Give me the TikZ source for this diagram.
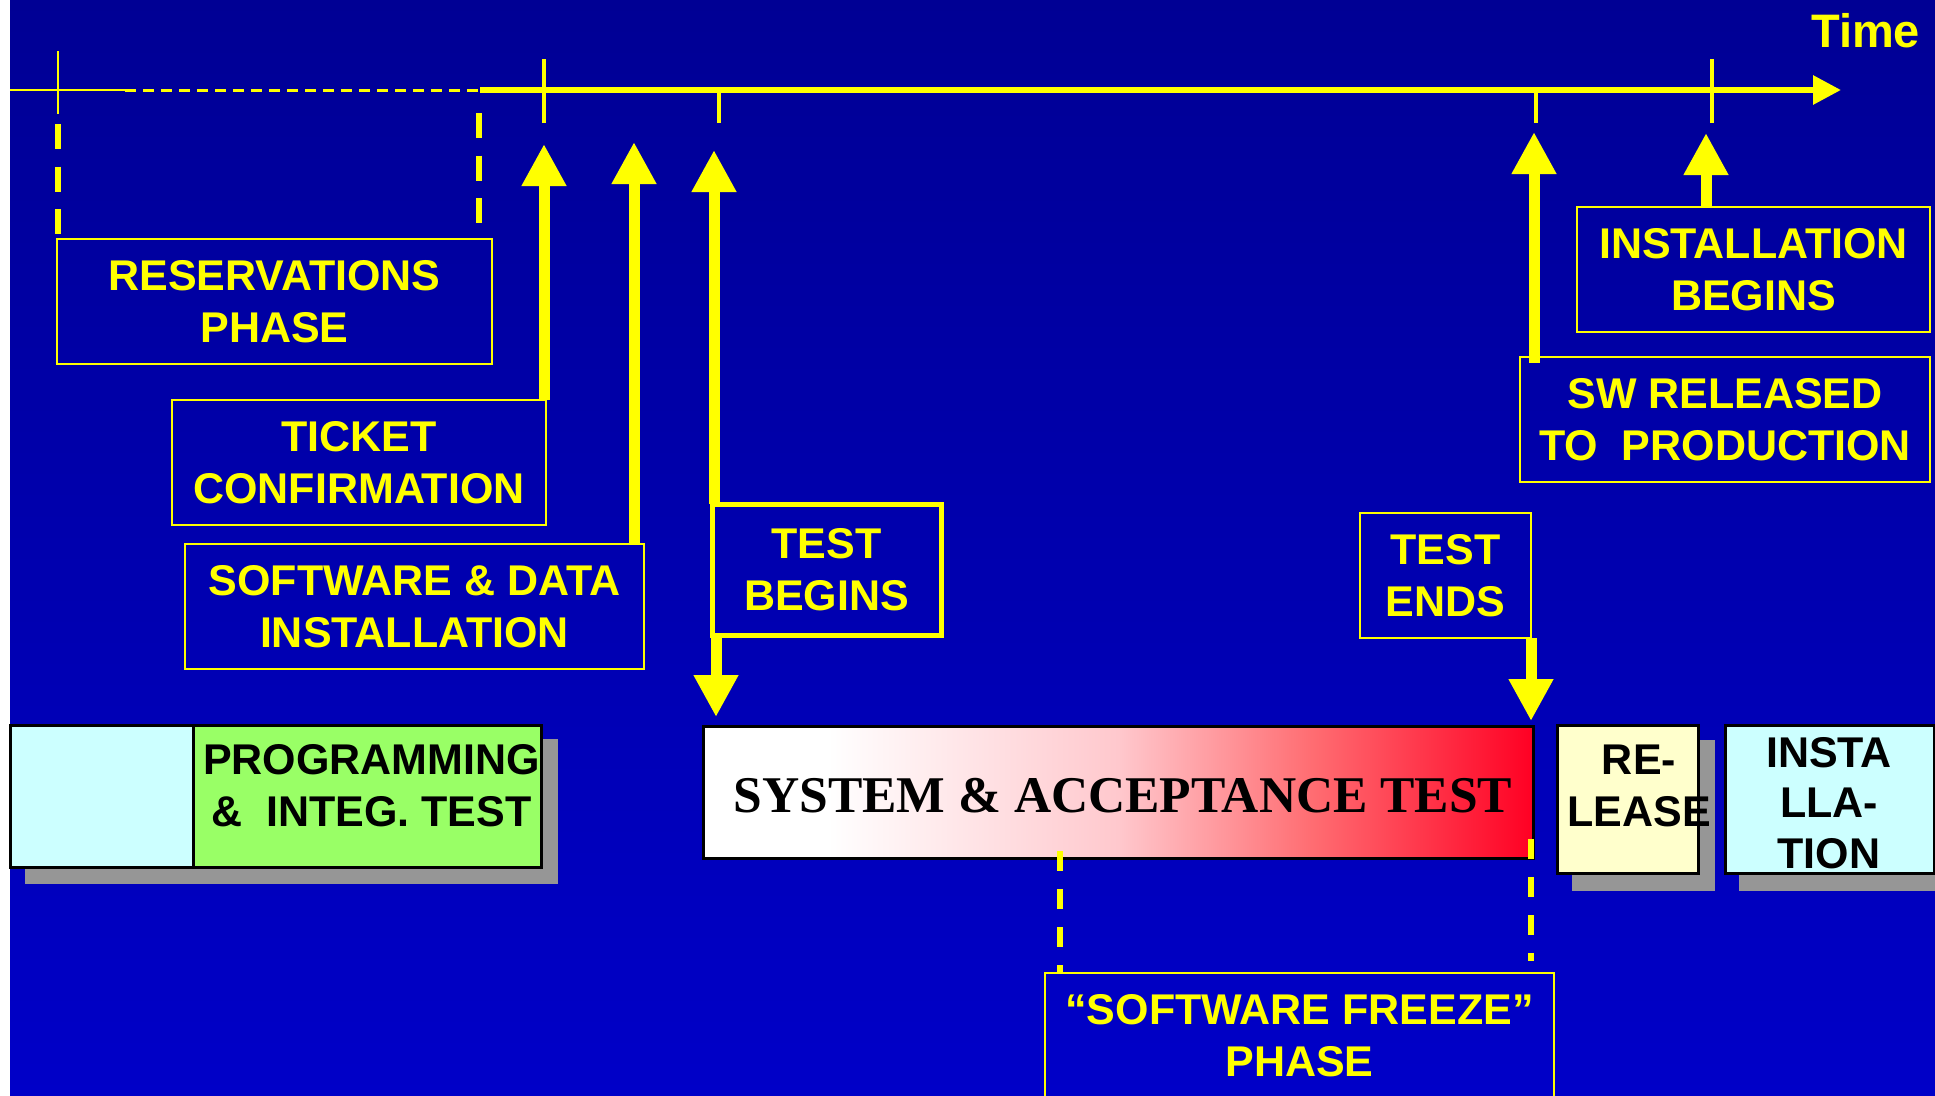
\documentclass[tikz,border=0pt]{standalone}
\usepackage{fontspec}
\setmainfont{Liberation Sans}
\newfontfamily\serifbold{Liberation Serif}
\usetikzlibrary{arrows.meta,calc}

\definecolor{bgtop}{RGB}{0,0,148}
\definecolor{bgbot}{RGB}{0,0,200}
\definecolor{hiyellow}{RGB}{255,255,0}
\definecolor{paleCyan}{RGB}{204,255,255}
\definecolor{paleGreen}{RGB}{153,255,102}
\definecolor{paleYellow}{RGB}{255,255,204}
\definecolor{shadowgrey}{RGB}{150,150,150}

% white-to-red fade of the test phase bar (inner 25bp..75bp spans the bar)
\pgfdeclarehorizontalshading{testfade}{100bp}{%
  color(0bp)=(white); color(25bp)=(white); color(32.5bp)=(white);
  color(50bp)=(rgb,255:red,255;green,200;blue,205);
  color(61.5bp)=(rgb,255:red,255;green,110;blue,115);
  color(75bp)=(rgb,255:red,255;green,0;blue,35);
  color(100bp)=(rgb,255:red,255;green,0;blue,35)}

\begin{document}
\begin{tikzpicture}[x=1pt,y=-1pt,
  labelbox/.style={draw=hiyellow, line width=2.5pt, outer sep=0pt, inner sep=0pt,
    text=hiyellow, align=center, font=\bfseries\fontsize{43}{52}\selectfont},
  blockbox/.style={draw=black, line width=3pt, outer sep=0pt, inner sep=0pt},
  blocktext/.style={text=black, align=center, inner sep=0pt,
    font=\bfseries\fontsize{43}{52}\selectfont},
  bigarrow/.style={draw=hiyellow, line width=11pt, -{Triangle[length=42pt,width=42pt]}},
  tickmark/.style={draw=hiyellow, line width=4pt},
  guide/.style={draw=hiyellow, line width=6.5pt, dash pattern=on 25pt off 17.5pt},
  freezeguide/.style={draw=hiyellow, line width=6pt, dash pattern=on 20pt off 18pt},
]
\useasboundingbox (0,0) rectangle (1935,1095);

% background
\fill[white] (0,0) rectangle (1935,1095);
\shade[top color=bgtop, bottom color=bgbot] (10,0) rectangle (1935,1095);

% time axis
\coordinate (axstart) at (10,90);
\coordinate (axdashA) at (125,90);
\coordinate (axdashB) at (480,90);
\coordinate (axend) at (1841,90);
\draw[hiyellow, line width=2.5pt] (axstart) -- (axdashA);
\draw[hiyellow, line width=3pt, dash pattern=on 11pt off 7pt] (axdashA) -- (axdashB);
\draw[hiyellow, line width=6pt, -{Triangle[length=28pt,width=28pt]}] (axdashB) -- (axend);
\node[anchor=base west, inner sep=0pt, text=hiyellow,
  font=\bfseries\fontsize{47}{50}\selectfont] (timelbl) at (1811,47) {Time};

% tick marks on the axis
\draw[hiyellow, line width=2pt] (58,51) -- (58,114);
\draw[tickmark] (544,59) -- (544,123);
\draw[tickmark] (719,90) -- (719,123);
\draw[tickmark] (1536,90) -- (1536,123);
\draw[tickmark] (1712,59) -- (1712,123);

% milestone labels
\node[labelbox, minimum width=435pt, minimum height=125pt] (res) at (274.5,301.5) {RESERVATIONS\\PHASE};
\node[labelbox, minimum width=374pt, minimum height=125pt] (ticket) at (359,462.5) {TICKET\\CONFIRMATION};
\node[labelbox, minimum width=459pt, minimum height=125pt] (swdata) at (414.5,606.5) {SOFTWARE \& DATA\\INSTALLATION};
\node[labelbox, line width=5pt, minimum width=229pt, minimum height=131pt] (testbeg) at (826.5,569.5) {TEST\\BEGINS};
\node[labelbox, minimum width=171pt, minimum height=125pt] (testend) at (1445.5,575.5) {TEST\\ENDS};
\node[labelbox, minimum width=353pt, minimum height=125pt] (instbeg) at (1753.5,269.5) {INSTALLATION\\BEGINS};
\node[labelbox, minimum width=410pt, minimum height=125pt] (swrel) at (1725,419.5) {SW RELEASED\\TO\ \ PRODUCTION};
\node[labelbox, minimum width=509pt, minimum height=125pt] (freeze) at (1299.5,1035.5) {“SOFTWARE FREEZE”\\PHASE};

% reservations phase bounds
\coordinate (resL1) at (58,124);
\coordinate (resL2) at (58,234);
\coordinate (resR1) at (479,113);
\coordinate (resR2) at (479,223);
\draw[guide] (resL1) -- (resL2);
\draw[guide] (resR1) -- (resR2);

% project phase blocks
\fill[shadowgrey] (25,739) rectangle (558,884);
\node[blockbox, fill=paleCyan, minimum width=183pt, minimum height=142pt] (prep) at (101.5,796) {};
\node[blockbox, fill=paleGreen, minimum width=348pt, minimum height=142pt] (prog) at (367,796) {};
\node[blocktext] (proglbl) at (371.5,786) {PROGRAMMING\\\&\ \ INTEG. TEST};

\node[blockbox, minimum width=830pt, minimum height=132pt, shading=testfade] (systest) at (1118,792) {};
\node[inner sep=0pt, text=black, font=\serifbold\bfseries\fontsize{51.5}{55}\selectfont] (syslbl) at (1123,796) {SYSTEM \& ACCEPTANCE TEST};

\fill[shadowgrey] (1572,740) rectangle (1715,891);
\node[blockbox, fill=paleYellow, minimum width=141pt, minimum height=148pt] (rel) at (1627.5,799) {};
\node[blocktext] (rellbl) at (1639,786) {RE-\\LEASE};

\fill[shadowgrey] (1739,740) rectangle (1935,891);
\node[blockbox, fill=paleCyan, minimum width=209pt, minimum height=148pt] (inst) at (1829.5,799) {};
\node[blocktext, font=\bfseries\fontsize{43}{50.5}\selectfont] (instlbl) at (1829,803) {INSTA\\LLA-\\TION};

% software freeze bounds
\coordinate (frzL1) at (1060,851);
\coordinate (frzL2) at (1060,972);
\coordinate (frzR1) at (1531,839);
\coordinate (frzR2) at (1531,961);
\draw[freezeguide] (frzL1) -- (frzL2);
\draw[freezeguide] (frzR1) -- (frzR2);

% milestone arrows
\coordinate (tipTicket) at (544,144);
\coordinate (tipSwdata) at (634,142);
\coordinate (tipTestbeg) at (714,150);
\coordinate (tipSwrel) at (1534,132);
\coordinate (tipInstbeg) at (1706,133);
\draw[bigarrow] (ticket.north -| tipTicket) -- (tipTicket);
\draw[bigarrow] (swdata.north -| tipSwdata) -- (tipSwdata);
\draw[bigarrow] (testbeg.north -| tipTestbeg) -- (tipTestbeg);
\draw[bigarrow] ($(swrel.north -| tipSwrel)+(0,6)$) -- (tipSwrel);
\draw[bigarrow] (instbeg.north -| tipInstbeg) -- (tipInstbeg);

\coordinate (sysStart) at (716,717);
\coordinate (sysEnd) at (1531,721);
\draw[bigarrow] (testbeg.south -| sysStart) -- (sysStart);
\draw[bigarrow] (testend.south -| sysEnd) -- (sysEnd);
\end{tikzpicture}
\end{document}
